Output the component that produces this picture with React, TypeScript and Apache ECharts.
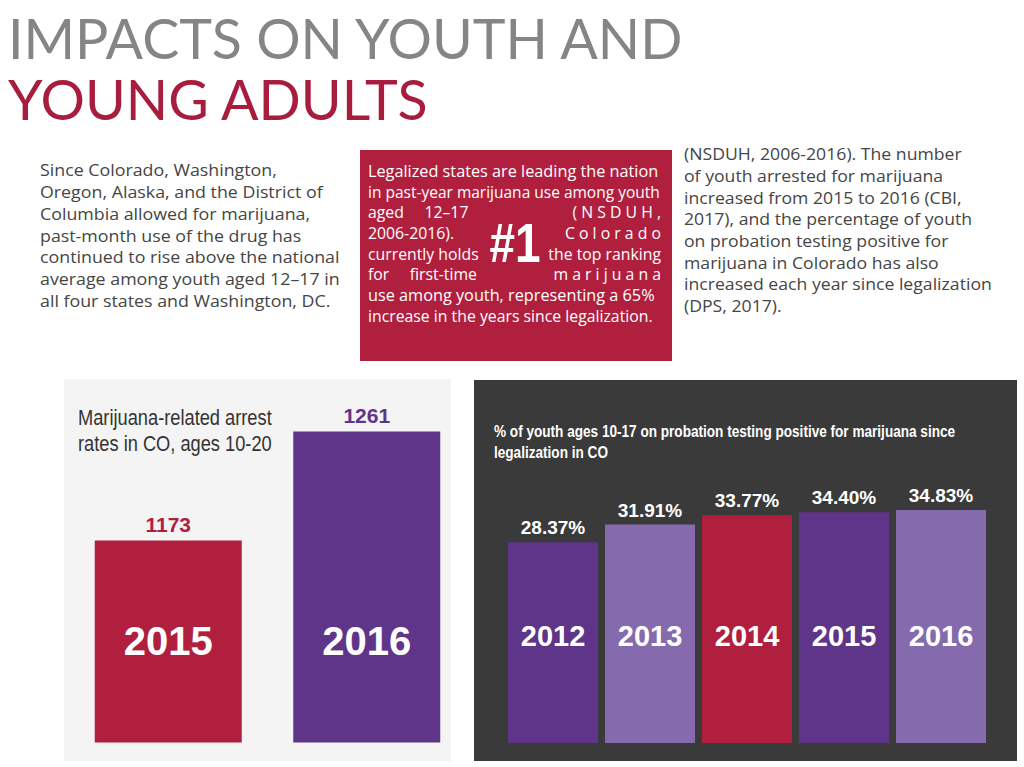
import React, { useEffect, useRef } from "react";
import * as echarts from "echarts";

// ---- data ----
const arrestYears = ["2015", "2016"];
const arrestValues = [1173, 1261];
const probationYears = ["2012", "2013", "2014", "2015", "2016"];
const probationValues = [28.37, 31.91, 33.77, 34.4, 34.83];

const titleLine1 = "IMPACTS ON YOUTH AND";
const titleLine2 = "YOUNG ADULTS";
const leftParagraph = [
  "Since Colorado, Washington,",
  "Oregon, Alaska, and the District of",
  "Columbia allowed for marijuana,",
  "past-month use of the drug has",
  "continued to rise above the national",
  "average among youth aged 12\u201317 in",
  "all four states and Washington, DC.",
];
const rightParagraph = [
  "(NSDUH, 2006-2016). The number",
  "of youth arrested for marijuana",
  "increased from 2015 to 2016 (CBI,",
  "2017), and the percentage of youth",
  "on probation testing positive for",
  "marijuana in Colorado has also",
  "increased each year since legalization",
  "(DPS, 2017).",
];
const boxFullTop = [
  "Legalized states are leading the nation",
  "in past-year marijuana use among youth",
];
const boxLeft = ["aged     12\u201317", "2006-2016).", "currently holds", "for     first-time"];
const boxRight = ["( N S D U H ,", "C o l o r a d o", "the top ranking", "m a r i j u a n a"];
const boxFullBottom = [
  "use among youth, representing a 65%",
  "increase in the years since legalization.",
];
const arrestTitle = "Marijuana-related arrest\nrates in CO, ages 10-20";
const probationTitle =
  "% of youth ages 10-17 on probation testing positive for marijuana since\nlegalization in CO";

// ---- styles ----
const RED = "#b01f3e";
const PURPLE = "#5f358a";
const LILAC = "#856bad";
const arrestColors = [RED, PURPLE];
const probationColors = [PURPLE, LILAC, RED, PURPLE, LILAC];
const SANS = "'Liberation Sans', Arial, sans-serif";
const BODY = "'Open Sans', 'Noto Sans', sans-serif";
const TITLE = "Lato, 'Open Sans', sans-serif";

export default function App() {
  const ref = useRef<HTMLDivElement>(null);

  useEffect(() => {
    if (!ref.current) return;
    const chart = echarts.init(ref.current, null, { renderer: "svg" });

    const boxLineH = 20.7;
    const boxStartY = 171;
    const boxFont = 15.5;
    const boxTexts: any[] = [];
    const boxText = (t: string, x: number, y: number, align: string, sx: number) => ({
      type: "text",
      x,
      y,
      z: 100,
      scaleX: sx,
      style: {
        text: t,
        fill: "#fff",
        fontSize: boxFont,
        fontFamily: BODY,
        textAlign: align,
        textVerticalAlign: "middle",
      },
    });
    boxFullTop.forEach((t, i) =>
      boxTexts.push(boxText(t, 368, boxStartY + i * boxLineH, "left", i === 0 ? 1.05 : 1.0))
    );
    boxLeft.forEach((t, i) => boxTexts.push(boxText(t, 368, boxStartY + (i + 2) * boxLineH, "left", 1.02)));
    boxRight.forEach((t, i) => boxTexts.push(boxText(t, 661, boxStartY + (i + 2) * boxLineH, "right", 1.02)));
    boxFullBottom.forEach((t, i) =>
      boxTexts.push(boxText(t, 368, boxStartY + (i + 6) * boxLineH, "left", i === 0 ? 1.05 : 1.02))
    );

    chart.setOption({
      animation: false,
      backgroundColor: "#ffffff",
      graphic: [
        { type: "rect", z: -10, shape: { x: 64, y: 379, width: 387, height: 382 }, style: { fill: "#f4f4f4" } },
        { type: "rect", z: -10, shape: { x: 474, y: 380, width: 543, height: 381 }, style: { fill: "#3a3a3a" } },
        { type: "rect", z: -10, shape: { x: 360, y: 150, width: 312, height: 211 }, style: { fill: "#b01f3e" } },
        {
          type: "text",
          x: 8,
          y: 37,
          style: {
            text: titleLine1,
            fill: "#858585",
            fontSize: 55.5,
            fontWeight: "normal",
            fontFamily: TITLE,
            textVerticalAlign: "middle",
          },
        },
        {
          type: "text",
          x: 8,
          y: 98,
          style: {
            text: titleLine2,
            fill: "#a81c3d",
            fontSize: 55.5,
            fontWeight: "normal",
            fontFamily: TITLE,
            textVerticalAlign: "middle",
          },
        },
        {
          type: "text",
          x: 40,
          y: 159,
          scaleX: 1.08,
          style: {
            text: leftParagraph.join("\n"),
            fill: "#454545",
            fontSize: 16.5,
            lineHeight: 21.8,
            fontFamily: BODY,
            textVerticalAlign: "top",
          },
        },
        {
          type: "text",
          x: 684,
          y: 143,
          scaleX: 1.07,
          style: {
            text: rightParagraph.join("\n"),
            fill: "#454545",
            fontSize: 16.5,
            lineHeight: 21.7,
            fontFamily: BODY,
            textVerticalAlign: "top",
          },
        },
        ...boxTexts,
        {
          type: "text",
          x: 515,
          y: 243,
          z: 100,
          scaleX: 0.82,
          style: {
            text: "#1",
            fill: "#fff",
            fontSize: 56,
            fontWeight: "bold",
            fontFamily: SANS,
            textAlign: "center",
            textVerticalAlign: "middle",
          },
        },
        {
          type: "text",
          x: 78,
          y: 404,
          scaleX: 0.83,
          style: {
            text: arrestTitle,
            fill: "#333333",
            fontSize: 22,
            lineHeight: 26,
            fontFamily: SANS,
            textVerticalAlign: "top",
          },
        },
        {
          type: "text",
          x: 494,
          y: 421,
          scaleX: 0.85,
          style: {
            text: probationTitle,
            fill: "#ffffff",
            fontSize: 16,
            lineHeight: 21,
            fontWeight: "bold",
            fontFamily: SANS,
            textVerticalAlign: "top",
          },
        },
      ],
      grid: [
        { left: 69, width: 397, top: 395.7, bottom: 24.5, containLabel: false },
        { left: 504.5, width: 485, top: 484.3, bottom: 24, containLabel: false },
      ],
      xAxis: [
        {
          type: "category",
          gridIndex: 0,
          data: arrestYears,
          axisLine: { show: false },
          axisTick: { show: false },
          axisLabel: {
            inside: true,
            margin: 82,
            color: "#ffffff",
            fontSize: 40,
            fontWeight: "bold",
            fontFamily: SANS,
          },
          z: 10,
        },
        {
          type: "category",
          gridIndex: 1,
          data: probationYears,
          axisLine: { show: false },
          axisTick: { show: false },
          axisLabel: {
            inside: true,
            margin: 93,
            color: "#ffffff",
            fontSize: 29,
            fontWeight: "bold",
            fontFamily: SANS,
          },
          z: 10,
        },
      ],
      yAxis: [
        { type: "value", gridIndex: 0, min: 1010, max: 1290, show: false, splitLine: { show: false } },
        {
          type: "value",
          gridIndex: 1,
          min: -12,
          max: 40,
          startValue: -12,
          show: false,
          splitLine: { show: false },
        },
      ],
      series: [
        {
          type: "bar",
          xAxisIndex: 0,
          yAxisIndex: 0,
          barWidth: 147,
          data: arrestValues.map((v, i) => ({
            value: v,
            itemStyle: { color: arrestColors[i] },
            label: { color: arrestColors[i] },
          })),
          label: {
            show: true,
            position: "top",
            distance: 6,
            fontSize: 21,
            fontWeight: "bold",
            fontFamily: SANS,
          },
        },
        {
          type: "bar",
          xAxisIndex: 1,
          yAxisIndex: 1,
          barWidth: 90,
          data: probationValues.map((v, i) => ({
            value: v,
            itemStyle: { color: probationColors[i] },
          })),
          label: {
            show: true,
            position: "top",
            distance: 5,
            fontSize: 19,
            fontWeight: "bold",
            fontFamily: SANS,
            color: "#ffffff",
            formatter: (p: any) => Number(p.value).toFixed(2) + "%",
          },
        },
      ],
    });

    return () => chart.dispose();
  }, []);

  return (
    <div
      ref={ref}
      style={{ position: "absolute", left: 0, top: 0, width: 1024, height: 767 }}
    />
  );
}
